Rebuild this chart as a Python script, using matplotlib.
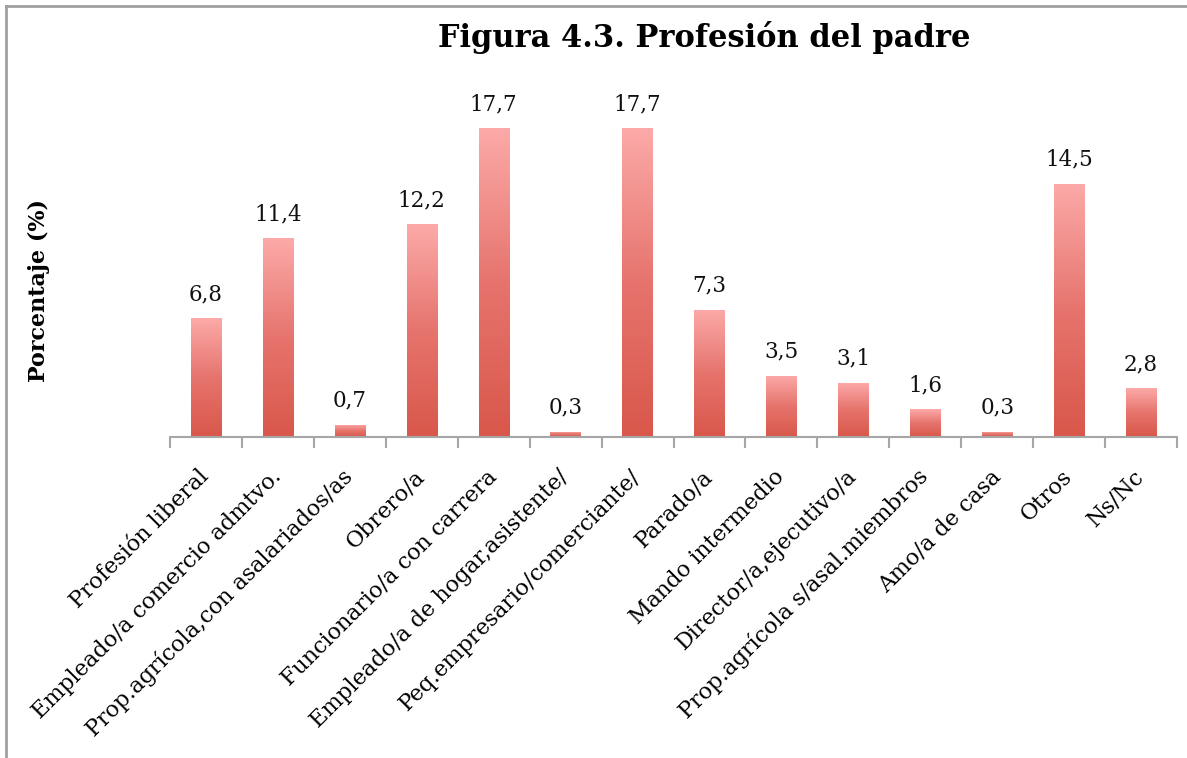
import numpy as np
import matplotlib.pyplot as plt
from matplotlib.colors import LinearSegmentedColormap
from matplotlib.lines import Line2D

# Data
categories = [
    "Profesión liberal",
    "Empleado/a comercio admtvo.",
    "Prop.agrícola,con asalariados/as",
    "Obrero/a",
    "Funcionario/a con carrera",
    "Empleado/a de hogar,asistente/",
    "Peq.empresario/comerciante/",
    "Parado/a",
    "Mando intermedio",
    "Director/a,ejecutivo/a",
    "Prop.agrícola s/asal.miembros",
    "Amo/a de casa",
    "Otros",
    "Ns/Nc",
]
values = [6.8, 11.4, 0.7, 12.2, 17.7, 0.3, 17.7, 7.3, 3.5, 3.1, 1.6, 0.3, 14.5, 2.8]

plt.rcParams['font.family'] = ['DejaVu Serif']

fig = plt.figure(figsize=(11.87, 7.58), dpi=100)
ax = fig.add_axes([0.1432, 0.4235, 0.8484, 0.4604])

x = np.arange(len(categories))
bar_w = 0.42
bars = ax.bar(x, values, width=bar_w, color='none', edgecolor='none', zorder=2)

# vertical gradient inside each bar (light top, darker bottom)
cmap = LinearSegmentedColormap.from_list('redgrad', ['#d9574b', '#e6746d', '#fcaaa9'])
grad = np.linspace(0, 1, 256).reshape(-1, 1)
for b in bars:
    x0 = b.get_x()
    h = b.get_height()
    im = ax.imshow(grad, cmap=cmap, origin='lower', aspect='auto',
                   extent=(x0, x0 + bar_w, 0, h), zorder=2)
    im.set_clip_path(b)

for xi, v in zip(x, values):
    ax.text(xi, v + 0.75, f"{v:.1f}".replace('.', ','), ha='center', va='bottom',
            fontsize=15.5, color='#111111')

ax.set_xlim(-0.5, len(categories) - 0.5)
ax.set_ylim(0, 20)

for s in ['top', 'right', 'left']:
    ax.spines[s].set_visible(False)
ax.spines['bottom'].set_color('#a6a6a6')
ax.spines['bottom'].set_linewidth(1.5)
ax.set_yticks([])

ax.set_xticks(x)
ax.set_xticklabels(categories, fontsize=16)
ax.set_xticks(np.arange(len(categories) + 1) - 0.5, minor=True)
ax.tick_params(axis='x', which='major', length=0, pad=26)
ax.tick_params(axis='x', which='minor', length=8, width=1.5, color='#a6a6a6', direction='out')
plt.setp(ax.get_xticklabels(), rotation=45, ha='right', va='center', rotation_mode='anchor')

ax.set_ylabel('Porcentaje (%)', fontsize=16, fontweight='bold')
ax.yaxis.set_label_coords(-0.119, 0.42)

fig.text(0.593, 0.95, 'Figura 4.3. Profesión del padre', ha='center', va='center',
         fontsize=22, fontweight='bold')

# chart frame (only top and left edges visible in the crop)
fig.add_artist(Line2D([6 / 1187, 1], [1 - 6 / 758, 1 - 6 / 758], transform=fig.transFigure,
                      color='#a0a0a0', lw=2))
fig.add_artist(Line2D([6 / 1187, 6 / 1187], [0, 1 - 6 / 758], transform=fig.transFigure,
                      color='#a0a0a0', lw=2))

fig.savefig('out.png', dpi=100)
